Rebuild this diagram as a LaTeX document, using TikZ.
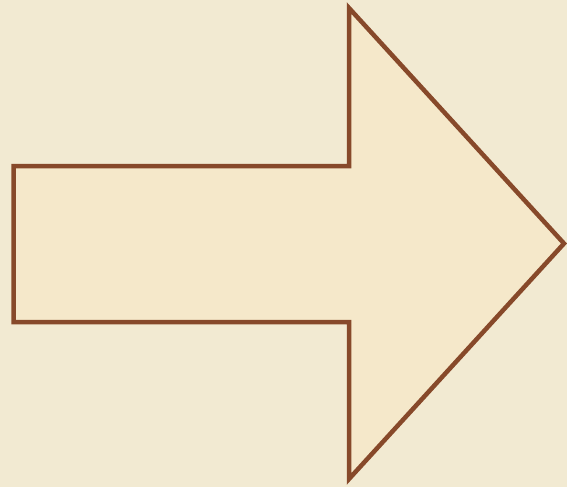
\documentclass[tikz,border=0pt]{standalone}
\definecolor{bgbeige}{RGB}{242,234,210}
\definecolor{arrowfill}{RGB}{245,232,202}
\definecolor{arrowline}{RGB}{135,73,42}
\tikzset{bigarrow/.style={draw=arrowline, fill=arrowfill, line width=4.5pt, line join=miter}}
\begin{document}
\begin{tikzpicture}[x=1pt,y=-1pt]
\fill[bgbeige] (0,0) rectangle (567,487);
\useasboundingbox (0,0) rectangle (567,487);
\coordinate (t1) at (13.5,166);
\coordinate (n1) at (349,166);
\coordinate (h1) at (349,8);
\coordinate (tip) at (564,243.5);
\coordinate (h2) at (349,479);
\coordinate (n2) at (349,322);
\coordinate (t2) at (13.5,322);
\draw[bigarrow] (t1) -- (n1) -- (h1) -- (tip) -- (h2) -- (n2) -- (t2) -- cycle;
\end{tikzpicture}
\end{document}
